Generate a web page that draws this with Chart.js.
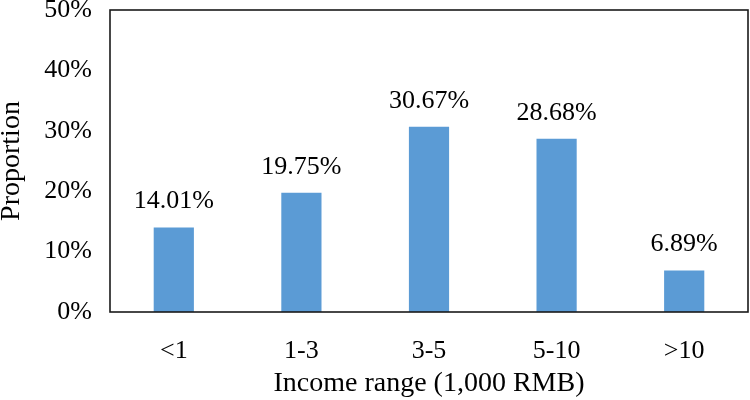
<!DOCTYPE html>
<html>
<head>
<meta charset="utf-8">
<script src="https://cdn.jsdelivr.net/npm/chart.js@4/dist/chart.umd.min.js"></script>
<style>
  html, body { margin: 0; padding: 0; background: #fff; }
</style>
</head>
<body>
<canvas id="chart" width="750" height="400"></canvas>
<script>
const incomeRanges = ["<1", "1-3", "3-5", "5-10", ">10"];
const proportions = [14.01, 19.75, 30.67, 28.68, 6.89];
const yTicks = [0, 10, 20, 30, 40, 50];

const FONT = "'Liberation Serif', 'Times New Roman', serif";

// value labels above each bar
const barLabels = {
    id: "barLabels",
    afterDatasetsDraw(chart) {
        const ctx = chart.ctx;
        const meta = chart.getDatasetMeta(0);
        ctx.save();
        ctx.font = "26px " + FONT;
        ctx.fillStyle = "#000";
        ctx.textAlign = "center";
        ctx.textBaseline = "alphabetic";
        meta.data.forEach((bar, i) => {
            ctx.fillText(proportions[i].toFixed(2) + "%", bar.x, bar.y - 19);
        });
        ctx.restore();
    }
};

// box round the plot area
const plotFrame = {
    id: "plotFrame",
    afterDraw(chart) {
        const a = chart.chartArea;
        const ctx = chart.ctx;
        ctx.save();
        ctx.strokeStyle = "#1a1a1a";
        ctx.lineWidth = 1.6;
        ctx.strokeRect(a.left, a.top, a.right - a.left, a.bottom - a.top);
        ctx.restore();
    }
};

new Chart(document.getElementById("chart").getContext("2d"), {
    type: "bar",
    data: {
        labels: incomeRanges,
        datasets: [{
            data: proportions,
            backgroundColor: "#5b9bd5",
            categoryPercentage: 1,
            barPercentage: 0.315
        }]
    },
    options: {
        responsive: false,
        animation: false,
        layout: { padding: { top: 10, right: 2, left: 0, bottom: 0 } },
        plugins: {
            legend: { display: false },
            tooltip: { enabled: false }
        },
        scales: {
            x: {
                grid: { display: false, drawTicks: false },
                border: { display: false },
                ticks: { color: "#000", font: { family: FONT, size: 26 }, padding: 24 },
                title: {
                    display: true,
                    text: "Income range (1,000 RMB)",
                    color: "#000",
                    font: { family: FONT, size: 28 },
                    padding: { top: 0, bottom: 0 }
                },
                afterFit: s => { s.height = 88; }
            },
            y: {
                min: 0,
                max: 50,
                afterBuildTicks: s => { s.ticks = yTicks.map(v => ({ value: v })); },
                grid: { display: false, drawTicks: false },
                border: { display: false },
                ticks: {
                    color: "#000",
                    font: { family: FONT, size: 26 },
                    padding: 18,
                    callback: v => v + "%"
                },
                title: {
                    display: true,
                    text: "Proportion",
                    color: "#000",
                    font: { family: FONT, size: 28, lineHeight: 0.8 },
                    padding: 0
                },
                afterFit: s => { s.width = 110; s.paddingTop = 0; s.paddingBottom = 0; }
            }
        }
    },
    plugins: [barLabels, plotFrame]
});
</script>
</body>
</html>
